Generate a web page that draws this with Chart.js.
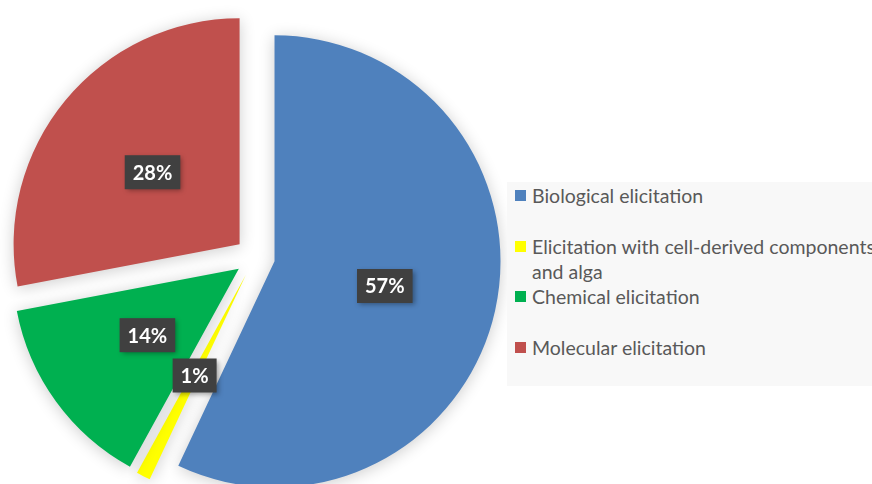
<!DOCTYPE html>
<html>
<head>
<meta charset="utf-8">
<script src="https://cdn.jsdelivr.net/npm/chart.js@4/dist/chart.umd.min.js"></script>
<style>
  html, body { margin: 0; padding: 0; background: #ffffff; }
  #wrap { position: relative; width: 872px; height: 484px; overflow: hidden; }
  #pie { position: absolute; left: 0; top: 0; }
  #legend {
    position: absolute; left: 507px; top: 182px; width: 365px; height: 204px;
    background: #f8f8f8; font-family: Lato, "Open Sans", sans-serif; font-size: 19.5px; color: #595959;
    white-space: nowrap;
  }
  .item { position: absolute; left: 8px; line-height: 25px; padding-left: 17px; }
  .item span.box { position: absolute; left: 0; top: 7px; width: 11px; height: 11px; }
</style>
</head>
<body>
<div id="wrap">
  <canvas id="pie" width="872" height="484"></canvas>
  <div id="legend"></div>
</div>
<script>
const categories = ["Biological elicitation", "Elicitation with cell-derived components and alga", "Chemical elicitation", "Molecular elicitation"];
const legendLines = [["Biological elicitation"], ["Elicitation with cell-derived components", "and alga"], ["Chemical elicitation"], ["Molecular elicitation"]];
const shares = [57, 1, 14, 28];
const sliceColors = ["#4f81bd", "#ffff00", "#00b050", "#c0504d"];

const EXPLODE = 20;   // every slice pulled out the same distance

// move each arc out along its mid angle (same for all slices, unlike chart.js offset)
const explodePlugin = {
    id: "explode",
    afterDatasetsUpdate(chart) {
        chart.getDatasetMeta(0).data.forEach(function(arc) {
            const mid = (arc.startAngle + arc.endAngle) / 2;
            arc.x += Math.cos(mid) * EXPLODE;
            arc.y += Math.sin(mid) * EXPLODE;
        });
    }
};

const shadowPlugin = {
    id: "shadow",
    beforeDatasetsDraw(chart) {
        const ctx = chart.ctx;
        ctx.save();
        ctx.shadowColor = "rgba(0,0,0,0.2)";
        ctx.shadowBlur = 16;
        ctx.shadowOffsetY = 2;
    },
    afterDatasetsDraw(chart) {
        chart.ctx.restore();
    }
};

const labelPlugin = {
    id: "pctLabels",
    afterDatasetsDraw(chart) {
        const ctx = chart.ctx;
        const meta = chart.getDatasetMeta(0);
        ctx.save();
        ctx.font = "bold 20px Lato, 'Open Sans', sans-serif";
        ctx.textAlign = "center";
        ctx.textBaseline = "middle";
        meta.data.forEach(function(arc, i) {
            const mid = (arc.startAngle + arc.endAngle) / 2;
            const r = arc.outerRadius / 2;
            const x = arc.x + Math.cos(mid) * r;
            const y = arc.y + Math.sin(mid) * r;
            const text = shares[i] + "%";
            const w = ctx.measureText(text).width + 16;
            const h = 34;
            ctx.shadowColor = "rgba(0,0,0,0.35)";
            ctx.shadowBlur = 5;
            ctx.shadowOffsetX = 2;
            ctx.shadowOffsetY = 2;
            ctx.fillStyle = "#404040";
            ctx.fillRect(x - w / 2, y - h / 2, w, h);
            ctx.shadowColor = "transparent";
            ctx.fillStyle = "#ffffff";
            ctx.fillText(text, x, y + 1);
        });
        ctx.restore();
    }
};

new Chart(document.getElementById("pie").getContext("2d"), {
    type: "pie",
    data: {
        labels: categories,
        datasets: [{
            data: shares,
            backgroundColor: sliceColors,
            borderWidth: 0,
            hoverOffset: 0,
            clip: false
        }]
    },
    options: {
        responsive: false,
        animation: false,
        radius: 226,
        layout: { padding: { left: 0, right: 362, top: 30, bottom: 0 } },
        plugins: {
            legend: { display: false },
            tooltip: { enabled: false }
        },
        events: []
    },
    plugins: [explodePlugin, shadowPlugin, labelPlugin]
});

// legend built from the same arrays
const legendTops = [1, 52, 102, 153];
const legendEl = document.getElementById("legend");
legendLines.forEach(function(lines, i) {
    const d = document.createElement("div");
    d.className = "item";
    d.style.top = legendTops[i] + "px";
    d.innerHTML = '<span class="box" style="background:' + sliceColors[i] + '"></span>' + lines.join("<br>");
    legendEl.appendChild(d);
});
</script>
</body>
</html>
